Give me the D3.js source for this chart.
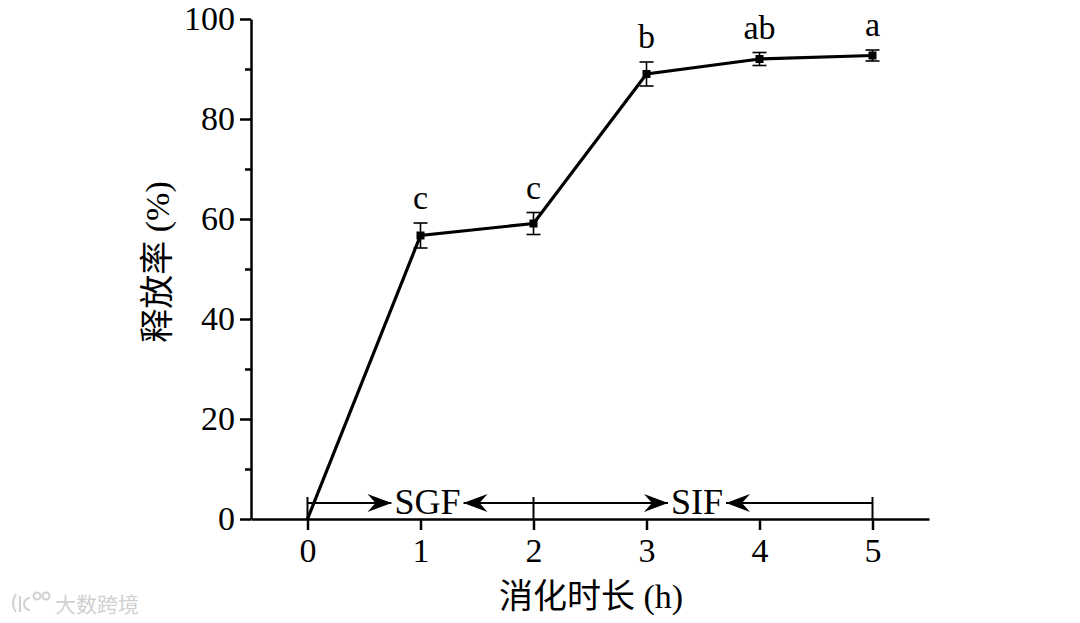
<!DOCTYPE html>
<html><head><meta charset="utf-8">
<script src="https://cdn.jsdelivr.net/npm/d3@7"></script>
<style>body{margin:0;background:#fff;}svg{display:block;}</style>
</head><body>
<svg id="c" width="1080" height="623"></svg>
<script>
const times = [0, 1, 2, 3, 4, 5];
const release = [0, 56.7, 59.1, 89.0, 92.0, 92.7];
const errors = [0, 2.5, 2.2, 2.4, 1.3, 1.1];
const letters = ["", "c", "c", "b", "ab", "a"];
const yTicks = [0, 20, 40, 60, 80, 100];
const yMinor = [10, 30, 50, 70, 90];
const xTicks = [0, 1, 2, 3, 4, 5];
const phases = [{name: "SGF", from: 0, to: 2}, {name: "SIF", from: 2, to: 5}];

const svg = d3.select("#c");
const serif = "'Liberation Serif','Times New Roman',serif";
const cjk = "'Liberation Serif','Noto Sans CJK SC',serif";
const x = d3.scaleLinear().domain([-0.5, 5.5]).range([251, 929]);
const y = d3.scaleLinear().domain([0, 100]).range([519, 19]);

// axes
svg.append("g").attr("transform", "translate(251,0)")
  .call(d3.axisLeft(y).tickValues(yTicks).tickSize(11).tickPadding(5).tickSizeOuter(0));
svg.append("g").attr("transform", "translate(251,0)")
  .call(d3.axisLeft(y).tickValues(yMinor).tickSize(6).tickFormat(() => "").tickSizeOuter(0))
  .select(".domain").remove();
svg.append("g").attr("transform", "translate(0,519)")
  .call(d3.axisBottom(x).tickValues(xTicks).tickFormat(d3.format("d")).tickSize(11).tickPadding(8).tickSizeOuter(0));
svg.selectAll(".domain").attr("stroke", "#000").attr("stroke-width", 2.5);
svg.selectAll(".tick line").attr("stroke", "#000").attr("stroke-width", 2.5);
svg.selectAll(".tick text").attr("font-family", serif).attr("font-size", 34).attr("fill", "#000");

// axis titles
svg.append("text").attr("x", 591).attr("y", 608).attr("text-anchor", "middle")
  .attr("font-family", cjk).attr("font-size", 34).text("消化时长 (h)");
svg.append("text").attr("transform", "translate(169,262) rotate(-90)").attr("text-anchor", "middle")
  .attr("font-family", cjk).attr("font-size", 34).text("释放率 (%)");

// phase arrows
const ay = 503;
svg.append("defs").append("marker").attr("id", "ah").attr("viewBox", "0 0 24 18")
  .attr("refX", 24).attr("refY", 9).attr("markerWidth", 24).attr("markerHeight", 18)
  .attr("markerUnits", "userSpaceOnUse").attr("orient", "auto")
  .append("path").attr("d", "M0,0 L24,9 L0,18 L8,9 Z").attr("fill", "#000");
const bounds = [0, 2, 5];
svg.selectAll(".bd").data(bounds).join("line")
  .attr("x1", d => x(d)).attr("x2", d => x(d)).attr("y1", ay - 6).attr("y2", 519)
  .attr("stroke", "#000").attr("stroke-width", 2);
phases.forEach(p => {
  const mid = (x(p.from) + x(p.to)) / 2 + (p.name === "SGF" ? 7 : -6);
  const t = svg.append("text").attr("x", mid).attr("y", ay + 11).attr("text-anchor", "middle")
    .attr("font-family", serif).attr("font-size", 36).text(p.name);
  const bb = t.node().getBBox();
  svg.append("line").attr("x1", x(p.from)).attr("x2", bb.x - 3).attr("y1", ay).attr("y2", ay)
    .attr("stroke", "#000").attr("stroke-width", 2.2).attr("marker-end", "url(#ah)");
  svg.append("line").attr("x1", x(p.to)).attr("x2", bb.x + bb.width + 3).attr("y1", ay).attr("y2", ay)
    .attr("stroke", "#000").attr("stroke-width", 2.2).attr("marker-end", "url(#ah)");
});

// data line
const data = times.map((t, i) => ({t, v: release[i], e: errors[i], l: letters[i]}));
svg.append("path").datum(data)
  .attr("d", d3.line().x(d => x(d.t)).y(d => y(d.v)))
  .attr("fill", "none").attr("stroke", "#000").attr("stroke-width", 3.2);

// error bars
const eb = svg.selectAll(".eb").data(data.filter(d => d.e > 0)).join("g");
eb.append("line").attr("x1", d => x(d.t)).attr("x2", d => x(d.t))
  .attr("y1", d => y(d.v + d.e)).attr("y2", d => y(d.v - d.e)).attr("stroke", "#000").attr("stroke-width", 1.6);
[1, -1].forEach(s => eb.append("line").attr("x1", d => x(d.t) - 7).attr("x2", d => x(d.t) + 7)
  .attr("y1", d => y(d.v + s * d.e)).attr("y2", d => y(d.v + s * d.e)).attr("stroke", "#000").attr("stroke-width", 1.6));

// markers
svg.selectAll(".mk").data(data.filter(d => d.t > 0)).join("rect")
  .attr("x", d => x(d.t) - 4).attr("y", d => y(d.v) - 4).attr("width", 8).attr("height", 8).attr("fill", "#000");

// significance letters
svg.selectAll(".lt").data(data.filter(d => d.l)).join("text")
  .attr("x", d => x(d.t)).attr("y", d => y(d.v + d.e) - 14).attr("text-anchor", "middle")
  .attr("font-family", serif).attr("font-size", 34).text(d => d.l);

// watermark
const wm = svg.append("g").attr("fill", "none").attr("stroke", "#d0d0d0").attr("stroke-width", 2);
wm.append("path").attr("d", "M16,594 Q10,604 16,612 M20,596 L20,612 M30,598 A6,6 0 1 0 30,610");
wm.append("circle").attr("cx", 37).attr("cy", 596).attr("r", 3.5);
wm.append("circle").attr("cx", 46).attr("cy", 596).attr("r", 3.5);
svg.append("text").attr("x", 55).attr("y", 612).attr("font-family", "'Noto Sans CJK SC',sans-serif")
  .attr("font-size", 21).attr("fill", "#d0d0d0").text("大数跨境");
</script>
</body></html>
